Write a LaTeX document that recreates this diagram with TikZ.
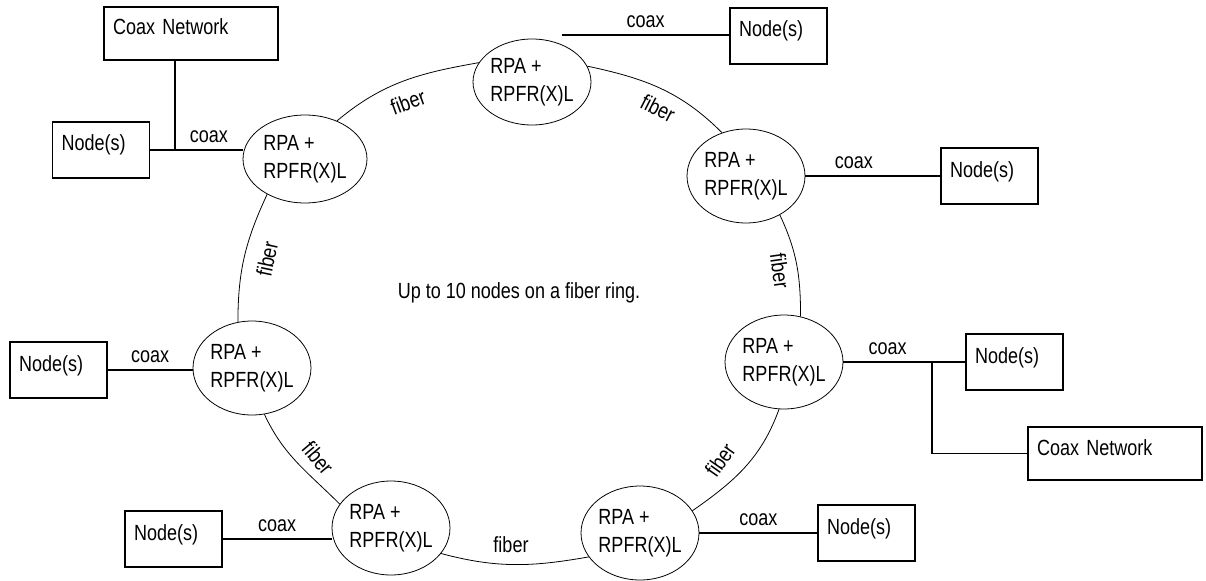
\documentclass[tikz,border=0pt]{standalone}
\usepackage{fontspec}
\setmainfont{Liberation Sans}[FakeStretch=0.82]
\usetikzlibrary{calc,shapes.geometric}

\tikzset{
  rpa/.style={draw, ellipse, line width=0.45pt, minimum width=2.36cm, minimum height=1.88cm, inner sep=0pt, align=left},
  nodebox/.style={draw, rectangle, line width=0.85pt, align=left, inner xsep=0.18cm, inner ysep=0pt, text width=1.58cm, text height=0.58cm, text depth=0.54cm},
  netbox/.style={nodebox, text width=3.12cm, text height=0.56cm, text depth=0.5cm},
  coax/.style={line width=0.85pt},
  fiber/.style={line width=0.45pt},
  coaxlbl/.style={midway, above=3.5pt, inner sep=0pt},
  fiberlbl/.style={inner sep=0pt}
}

\begin{document}
\begin{tikzpicture}[x=0.02cm, y=0.02cm, every node/.style={font=\fontsize{12.5}{15.9}\selectfont}]
\useasboundingbox (0,0) rectangle (1206,-581);

% repeaters on the ring
\node[rpa, minimum height=1.72cm] (rtop) at (532,-82) {RPA +\\RPFR(X)L};
\node[rpa, minimum width=2.48cm, minimum height=1.76cm] (rul) at (305,-159) {RPA +\\RPFR(X)L};
\node[rpa] (rur) at (746,-176) {RPA +\\RPFR(X)L};
\node[rpa] (rr) at (784,-362) {RPA +\\RPFR(X)L};
\node[rpa] (rbr) at (640,-533) {RPA +\\RPFR(X)L};
\node[rpa] (rbl) at (391,-528) {RPA +\\RPFR(X)L};
\node[rpa] (rl) at (252,-368) {RPA +\\RPFR(X)L};

% boxes
\node[nodebox] (ntop) at (778.5,-36) {Node(s)};
\node[nodebox] (nul) at (101,-150) {Node(s)};
\node[netbox] (cnul) at (191,-33.5) {Coax Network};
\node[nodebox] (nur) at (989.5,-176) {Node(s)};
\node[nodebox] (nr) at (1014.5,-362) {Node(s)};
\node[netbox] (cnr) at (1115,-453.5) {Coax Network};
\node[nodebox] (nbr) at (866.5,-533) {Node(s)};
\node[nodebox] (nl) at (58.5,-370) {Node(s)};
\node[nodebox] (nbl) at (173.5,-539) {Node(s)};

\node (ring) at (519,-293) {Up to 10 nodes on a fiber ring.};

% fiber ring
\draw[fiber] (rul.50) to[out=40,in=190] (rtop.160);
\draw[fiber] (rtop.16) to[out=-12,in=135] (rur.119);
\draw[fiber] (rur.-49) to[out=-65,in=90] (rr.70);
\draw[fiber] (rr.-96) to[out=-110,in=35] (rbr.23);
\draw[fiber] (rbr.205) to[out=190,in=-15] (rbl.-27);
\draw[fiber] (rbl.155) to[out=135,in=-65] (rl.-75);
\draw[fiber] (rl.107) to[out=90,in=245] (rul.-137);
\foreach \x/\y/\r [count=\i] in {408/102/20, 658/108/-27, 780/271/-82, 720/460/55, 511/545/0, 318/458/-50, 267/259/78}{
  \node[fiberlbl, rotate=\r] (fib\i) at (\x,-\y) {fiber};
}

% coax links
\coordinate (ctop) at (562,-35);
\coordinate (jul) at (175,-150);
\coordinate (jr) at (932,-362);
\draw[coax] (ctop) -- node[coaxlbl] (cx1) {coax} (ctop -| ntop.west);
\draw[coax] (nul.east) -- (jul) -- node[coaxlbl] (cx2) {coax} (jul -| rul.west);
\draw[coax] (jul) -- (jul |- cnul.south);
\draw[coax] (rur.east) -- node[coaxlbl, pos=0.36] (cx3) {coax} (rur.east -| nur.west);
\draw[coax] (rr.east) -- node[coaxlbl] (cx4) {coax} (jr) -- (nr.west);
\draw[coax] (jr) |- (cnr.west);
\draw[coax] (rbr.east) -- node[coaxlbl] (cx5) {coax} (rbr.east -| nbr.west);
\draw[coax] (nl.east) -- node[coaxlbl] (cx6) {coax} (nl.east -| rl.west);
\draw[coax] (nbl.east) -- node[coaxlbl] (cx7) {coax} (nbl.east -| rbl.west);
\end{tikzpicture}
\end{document}
